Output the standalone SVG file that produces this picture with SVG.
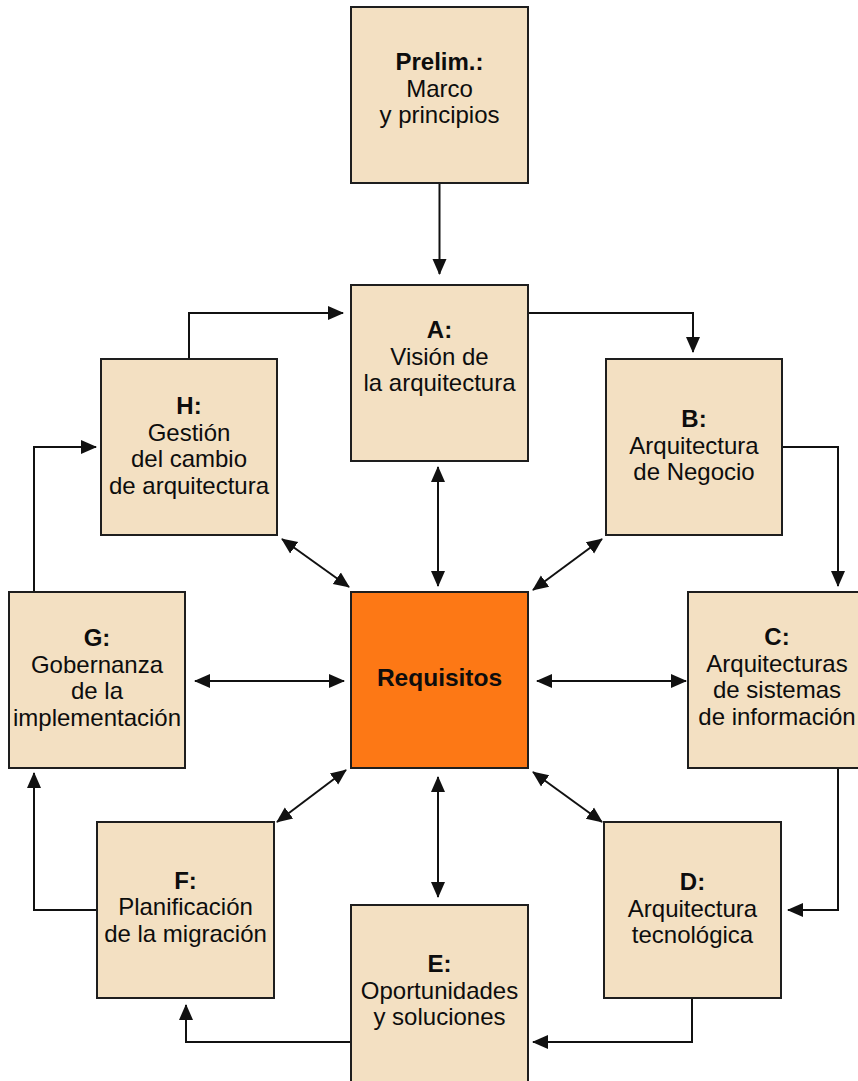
<svg xmlns="http://www.w3.org/2000/svg" width="858" height="1081" viewBox="0 0 858 1081">
  <style>
    .box { fill: #f3e0c2; stroke: #1e1e1e; stroke-width: 2; }
    .core { fill: #fd7815; stroke: #1e1e1e; stroke-width: 2; }
    .lbl { font-family: "Liberation Sans", Arial, sans-serif; font-size: 24px; fill: #0d0d0d; text-anchor: middle; }
    .b { font-weight: bold; }
    .wire { fill: none; stroke: #111; stroke-width: 2; }
  </style>
  <defs>
    <marker id="tip" markerUnits="userSpaceOnUse" viewBox="0 0 16 16" refX="15" refY="8" markerWidth="16" markerHeight="16" orient="auto-start-reverse">
      <path d="M0,1 L16,8 L0,15 z" fill="#111"/>
    </marker>
  </defs>
  <rect width="858" height="1081" fill="#ffffff"/>

  <!-- connectors -->
  <g id="connectors" class="wire">
    <!-- cycle -->
    <path d="M439.5,183 V274" marker-end="url(#tip)"/>
    <path d="M189,359 V313 H343" marker-end="url(#tip)"/>
    <path d="M528,313 H693 V352" marker-end="url(#tip)"/>
    <path d="M782,447 H838 V586" marker-end="url(#tip)"/>
    <path d="M838,768 V910 H788" marker-end="url(#tip)"/>
    <path d="M692,998 V1042 H533" marker-end="url(#tip)"/>
    <path d="M351,1042 H186 V1005" marker-end="url(#tip)"/>
    <path d="M97,910 H34 V773" marker-end="url(#tip)"/>
    <path d="M34,592 V447 H96" marker-end="url(#tip)"/>
    <!-- links to requirements -->
    <path d="M438,467 V586" marker-start="url(#tip)" marker-end="url(#tip)"/>
    <path d="M282,539 L349,587" marker-start="url(#tip)" marker-end="url(#tip)"/>
    <path d="M602,539 L533,590" marker-start="url(#tip)" marker-end="url(#tip)"/>
    <path d="M195,681 H344" marker-start="url(#tip)" marker-end="url(#tip)"/>
    <path d="M537,681 H686" marker-start="url(#tip)" marker-end="url(#tip)"/>
    <path d="M277,822 L346,770" marker-start="url(#tip)" marker-end="url(#tip)"/>
    <path d="M533,772 L602,822" marker-start="url(#tip)" marker-end="url(#tip)"/>
    <path d="M438,777 V897" marker-start="url(#tip)" marker-end="url(#tip)"/>
  </g>

  <g id="prelim">
    <rect class="box" x="351" y="7" width="177" height="176"/>
    <text class="lbl" x="439.5"><tspan class="b" x="439.5" y="70">Prelim.:</tspan><tspan x="439.5" y="96.7">Marco</tspan><tspan x="439.5" y="123.4">y principios</tspan></text>
  </g>

  <g id="phase-a">
    <rect class="box" x="351" y="285" width="177" height="176"/>
    <text class="lbl"><tspan class="b" x="439.5" y="338">A:</tspan><tspan x="439.5" y="364.7">Visión de</tspan><tspan x="439.5" y="391.4">la arquitectura</tspan></text>
  </g>

  <g id="phase-b">
    <rect class="box" x="606" y="359" width="176" height="176"/>
    <text class="lbl"><tspan class="b" x="694" y="427">B:</tspan><tspan x="694" y="453.7">Arquitectura</tspan><tspan x="694" y="480.4">de Negocio</tspan></text>
  </g>

  <g id="phase-c">
    <rect class="box" x="688" y="592" width="178" height="176"/>
    <text class="lbl"><tspan class="b" x="777" y="645">C:</tspan><tspan x="777" y="671.7">Arquitecturas</tspan><tspan x="777" y="698.4">de sistemas</tspan><tspan x="777" y="725">de información</tspan></text>
  </g>

  <g id="phase-d">
    <rect class="box" x="604" y="822" width="177" height="176"/>
    <text class="lbl"><tspan class="b" x="692.5" y="890">D:</tspan><tspan x="692.5" y="916.7">Arquitectura</tspan><tspan x="692.5" y="943.4">tecnológica</tspan></text>
  </g>

  <g id="phase-e">
    <rect class="box" x="351" y="905" width="177" height="177"/>
    <text class="lbl"><tspan class="b" x="439.5" y="972">E:</tspan><tspan x="439.5" y="998.7">Oportunidades</tspan><tspan x="439.5" y="1025.4">y soluciones</tspan></text>
  </g>

  <g id="phase-f">
    <rect class="box" x="97" y="822" width="177" height="176"/>
    <text class="lbl"><tspan class="b" x="185.5" y="888.5">F:</tspan><tspan x="185.5" y="915.2">Planificación</tspan><tspan x="185.5" y="941.9">de la migración</tspan></text>
  </g>

  <g id="phase-g">
    <rect class="box" x="9" y="592" width="176" height="176"/>
    <text class="lbl"><tspan class="b" x="97" y="646">G:</tspan><tspan x="97" y="672.7">Gobernanza</tspan><tspan x="97" y="699.4">de la</tspan><tspan x="97" y="726">implementación</tspan></text>
  </g>

  <g id="phase-h">
    <rect class="box" x="101" y="359" width="176" height="176"/>
    <text class="lbl"><tspan class="b" x="189" y="414">H:</tspan><tspan x="189" y="440.7">Gestión</tspan><tspan x="189" y="467.4">del cambio</tspan><tspan x="189" y="494">de arquitectura</tspan></text>
  </g>

  <g id="requisitos">
    <rect class="core" x="351" y="592" width="177" height="176"/>
    <text class="lbl b" x="439.5" y="686" style="font-size:24.5px">Requisitos</text>
  </g>
</svg>
